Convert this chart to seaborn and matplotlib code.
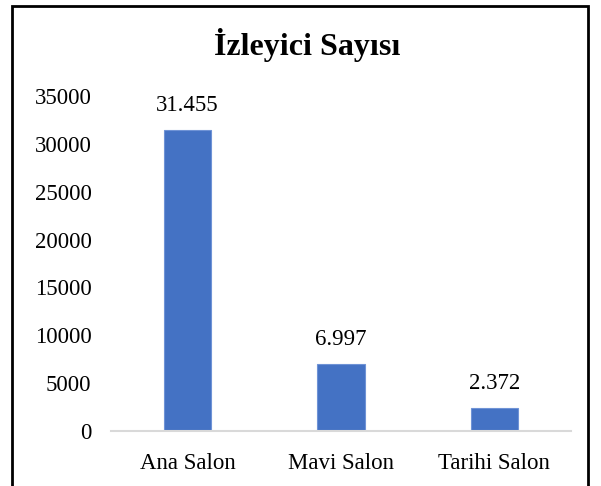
import matplotlib
matplotlib.use("Agg")
import matplotlib.pyplot as plt
import seaborn as sns
import pandas as pd
from matplotlib.patches import Rectangle

# chart data
salonlar = ["Ana Salon", "Mavi Salon", "Tarihi Salon"]
izleyici = [31455, 6997, 2372]
etiketler = ["31.455", "6.997", "2.372"]
y_ticks = [0, 5000, 10000, 15000, 20000, 25000, 30000, 35000]

df = pd.DataFrame({"Salon": salonlar, "Izleyici": izleyici})

sns.set_style("white")
plt.rcParams["font.family"] = ["Liberation Serif", "DejaVu Serif"]
plt.rcParams["text.color"] = "black"
plt.rcParams["xtick.color"] = "black"
plt.rcParams["ytick.color"] = "black"

fig = plt.figure(figsize=(6.01, 4.86), dpi=100)
ax = fig.add_axes([111 / 601, 1 - 431 / 486, 460 / 601, 335 / 486])

sns.barplot(data=df, x="Salon", y="Izleyici", color="#4472C4",
            width=0.31, saturation=1, ax=ax, edgecolor="#6F93D6", linewidth=0.8)

for i, (v, t) in enumerate(zip(izleyici, etiketler)):
    ax.text(i, v + 1500, t, ha="center", va="bottom", fontsize=16.5)

ax.set_ylim(0, 35000)
ax.set_yticks(y_ticks)
ax.set_yticklabels([str(t) for t in y_ticks], fontsize=16.5)
ax.tick_params(axis="x", labelsize=16.5, length=0, pad=16)
ax.tick_params(axis="y", length=0, pad=14)
ax.set_xlabel("")
ax.set_ylabel("")
for s in ["left", "top", "right"]:
    ax.spines[s].set_visible(False)
ax.spines["bottom"].set_color("#D9D9D9")
ax.spines["bottom"].set_linewidth(1.5)

fig.text(307 / 601, 1 - 45 / 486, "İzleyici Sayısı", ha="center", va="center",
         fontsize=23, fontweight="bold")

# outer frame
fig.patches.append(Rectangle((12 / 601, -0.1), 576 / 601, 1.1 - 6 / 486,
                             transform=fig.transFigure, fill=False,
                             edgecolor="black", linewidth=2))

fig.savefig("out.png", dpi=100)
